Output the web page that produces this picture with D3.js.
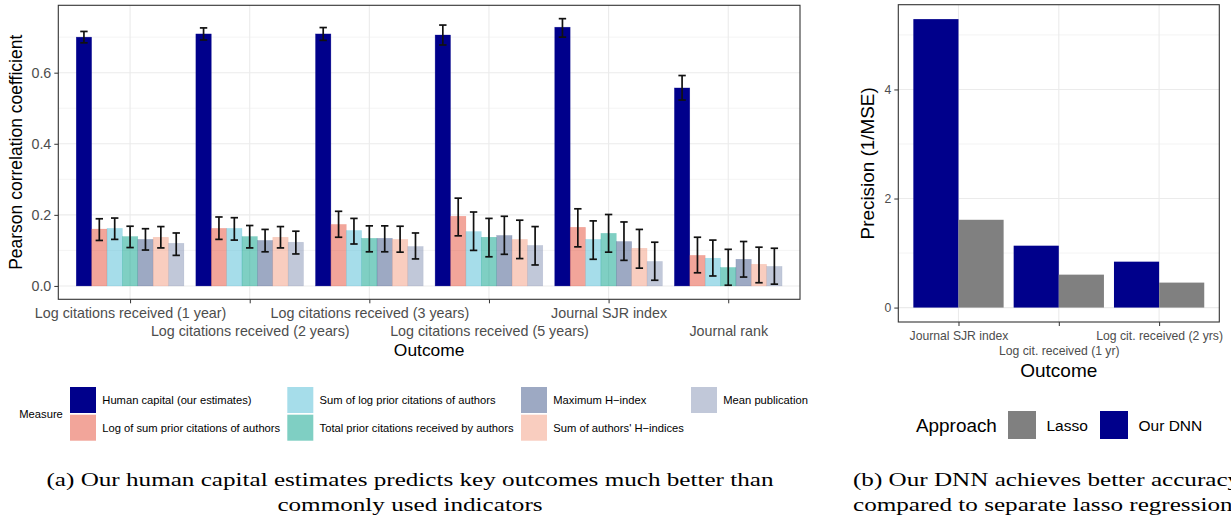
<!DOCTYPE html>
<html>
<head>
<meta charset="utf-8">
<script src="https://d3js.org/d3.v7.min.js"></script>
<style>
  html, body { margin: 0; padding: 0; background: #fff; }
  svg { display: block; font-family: "Liberation Sans", Arial, sans-serif; }
  .tick text { fill: #4D4D4D; }
  .tick line { stroke: #333; }
  .caption { font-family: "Liberation Serif", "DejaVu Serif", serif; fill: #000; }
</style>
</head>
<body>
<svg width="1231" height="517"></svg>
<script>
// ---- data: panel (a) ----
var outcomes = ["Log citations received (1 year)", "Log citations received (2 years)",
    "Log citations received (3 years)", "Log citations received (5 years)",
    "Journal SJR index", "Journal rank"];
var measures = ["Human capital (our estimates)", "Log of sum prior citations of authors",
    "Sum of log prior citations of authors", "Total prior citations received by authors",
    "Maximum H\u2212index", "Sum of authors' H\u2212indices", "Mean publication"];
var measureColors = ["#00008B", "#E64B35", "#4DBBD5", "#00A087", "#3C5488", "#F39B7F", "#8491B4"];
var measureAlpha = [1, 0.5, 0.5, 0.5, 0.5, 0.5, 0.5];
// one row per outcome, one column per measure
var corr = [
    [0.700, 0.160, 0.162, 0.139, 0.131, 0.137, 0.120],
    [0.709, 0.162, 0.162, 0.139, 0.128, 0.137, 0.123],
    [0.709, 0.173, 0.156, 0.134, 0.134, 0.131, 0.111],
    [0.706, 0.196, 0.153, 0.137, 0.142, 0.131, 0.114],
    [0.728, 0.165, 0.131, 0.148, 0.125, 0.106, 0.069],
    [0.557, 0.086, 0.078, 0.052, 0.075, 0.061, 0.055]];
var corrLow = [
    [0.684, 0.128, 0.131, 0.108, 0.101, 0.107, 0.086],
    [0.692, 0.131, 0.129, 0.107, 0.096, 0.107, 0.090],
    [0.691, 0.137, 0.118, 0.096, 0.096, 0.095, 0.076],
    [0.678, 0.141, 0.100, 0.082, 0.089, 0.077, 0.059],
    [0.700, 0.110, 0.075, 0.095, 0.072, 0.050, 0.016],
    [0.523, 0.037, 0.028, 0.002, 0.025, 0.009, 0.005]];
var corrHigh = [
    [0.716, 0.189, 0.191, 0.168, 0.161, 0.167, 0.149],
    [0.726, 0.194, 0.192, 0.170, 0.159, 0.167, 0.154],
    [0.727, 0.210, 0.190, 0.169, 0.169, 0.168, 0.149],
    [0.734, 0.247, 0.208, 0.190, 0.196, 0.185, 0.167],
    [0.752, 0.217, 0.183, 0.201, 0.180, 0.159, 0.123],
    [0.592, 0.137, 0.129, 0.103, 0.125, 0.109, 0.106]];
var corrTicks = [0, 0.2, 0.4, 0.6];
var corrMinor = [0.1, 0.3, 0.5, 0.7];

// ---- data: panel (b) ----
var outcomesB = ["Journal SJR index", "Log cit. received (1 yr)", "Log cit. received (2 yrs)"];
var approaches = ["Our DNN", "Lasso"];          // dodge order, left to right
var approachColors = {"Our DNN": "#00008B", "Lasso": "#808080"};
var dnnPrecision = [5.29, 1.135, 0.842];
var lassoPrecision = [1.61, 0.604, 0.458];
var precTicks = [0, 2, 4];
var precMinor = [1, 3, 5];

var svg = d3.select("svg");
svg.append("rect").attr("width", 1231).attr("height", 517).attr("fill", "#fff");

function expand(lo, hi) { var d = (hi - lo) * 0.05; return [lo - d, hi + d]; }

// ================= panel (a) =================
var A = {left: 58.3, right: 800, top: 5.3, bottom: 299.3};
var xA = d3.scalePoint().domain(outcomes).range([A.left, A.right]).padding(0.6);
var innerA = d3.scaleBand().domain(d3.range(measures.length))
    .range([-xA.step() * 0.45, xA.step() * 0.45]);
var yA = d3.scaleLinear().domain(expand(0, d3.max(corrHigh, function(r) { return d3.max(r); })))
    .range([A.bottom, A.top]);

var gA = svg.append("g");
// grid
gA.selectAll(".minor").data(corrMinor).enter().append("line")
    .attr("x1", A.left).attr("x2", A.right)
    .attr("y1", function(d) { return yA(d); }).attr("y2", function(d) { return yA(d); })
    .attr("stroke", "#EBEBEB").attr("stroke-width", 0.6);
gA.selectAll(".major").data(corrTicks).enter().append("line")
    .attr("x1", A.left).attr("x2", A.right)
    .attr("y1", function(d) { return yA(d); }).attr("y2", function(d) { return yA(d); })
    .attr("stroke", "#EBEBEB").attr("stroke-width", 1.1);
gA.selectAll(".vgrid").data(outcomes).enter().append("line")
    .attr("x1", function(d) { return xA(d); }).attr("x2", function(d) { return xA(d); })
    .attr("y1", A.top).attr("y2", A.bottom)
    .attr("stroke", "#EBEBEB").attr("stroke-width", 1.1);

// bars
var barData = [];
outcomes.forEach(function(o, i) {
    measures.forEach(function(m, j) {
        barData.push({o: o, j: j, v: corr[i][j], lo: corrLow[i][j], hi: corrHigh[i][j]});
    });
});
gA.selectAll(".bar").data(barData).enter().append("rect")
    .attr("x", function(d) { return xA(d.o) + innerA(d.j); })
    .attr("width", innerA.bandwidth())
    .attr("y", function(d) { return yA(d.v); })
    .attr("height", function(d) { return yA(0) - yA(d.v); })
    .attr("fill", function(d) { return measureColors[d.j]; })
    .attr("fill-opacity", function(d) { return measureAlpha[d.j]; })
    .attr("stroke", function(d) { return measureColors[d.j]; })
    .attr("stroke-opacity", function(d) { return measureAlpha[d.j] * 0.6; })
    .attr("stroke-width", 0.5);

// error bars
var eb = gA.selectAll(".err").data(barData).enter().append("g")
    .attr("transform", function(d) { return "translate(" + (xA(d.o) + innerA(d.j) + innerA.bandwidth() / 2) + ",0)"; })
    .attr("stroke", "#111").attr("stroke-width", 1.7);
eb.append("line").attr("y1", function(d) { return yA(d.lo); }).attr("y2", function(d) { return yA(d.hi); });
eb.append("line").attr("x1", -3.7).attr("x2", 3.7)
    .attr("y1", function(d) { return yA(d.lo); }).attr("y2", function(d) { return yA(d.lo); });
eb.append("line").attr("x1", -3.7).attr("x2", 3.7)
    .attr("y1", function(d) { return yA(d.hi); }).attr("y2", function(d) { return yA(d.hi); });

// border
gA.append("rect").attr("x", A.left).attr("y", A.top)
    .attr("width", A.right - A.left).attr("height", A.bottom - A.top)
    .attr("fill", "none").attr("stroke", "#333").attr("stroke-width", 1.1);

// axes
var axLA = gA.append("g").attr("transform", "translate(" + A.left + ",0)")
    .call(d3.axisLeft(yA).tickValues(corrTicks).tickFormat(d3.format(".1f")).tickSize(4).tickPadding(3));
axLA.select(".domain").remove();
axLA.selectAll("text").style("font-size", "14.3px");

var axBA = gA.append("g").attr("transform", "translate(0," + A.bottom + ")")
    .call(d3.axisBottom(xA).tickSize(4).tickPadding(3));
axBA.select(".domain").remove();
axBA.selectAll("text").style("font-size", "14.3px")
    .attr("y", function(d, i) { return i % 2 === 0 ? 14 : 31.7; })
    .attr("dy", "0.35em");

gA.append("text").attr("x", (A.left + A.right) / 2).attr("y", 350).attr("dy", "0.35em")
    .attr("text-anchor", "middle").style("font-size", "17.4px").text("Outcome");
gA.append("text").attr("transform", "translate(15.5," + (A.top + A.bottom) / 2 + ") rotate(-90)")
    .attr("dy", "0.35em").attr("text-anchor", "middle").style("font-size", "17.5px")
    .text("Pearson correlation coefficient");

// legend (a)
var legA = svg.append("g");
legA.append("text").attr("x", 19.3).attr("y", 414).attr("dy", "0.35em")
    .style("font-size", "11.2px").text("Measure");
var legColX = [70, 287.3, 521, 691];
var legRowY = [387, 414.7];
var legItems = legA.selectAll(".li").data(measures).enter().append("g")
    .attr("transform", function(d, i) {
        return "translate(" + legColX[Math.floor(i / 2)] + "," + legRowY[i % 2] + ")";
    });
legItems.append("rect").attr("width", 26).attr("height", 26)
    .attr("fill", function(d, i) { return measureColors[i]; })
    .attr("fill-opacity", function(d, i) { return measureAlpha[i]; });
legItems.append("text").attr("x", 32.3).attr("y", 13).attr("dy", "0.35em")
    .style("font-size", "11.2px").attr("fill", "#000").text(function(d) { return d; });

// ================= panel (b) =================
var B = {left: 898.3, right: 1219.3, top: 4.7, bottom: 322};
var xB = d3.scalePoint().domain(outcomesB).range([B.left, B.right]).padding(0.6);
var innerB = d3.scaleBand().domain(approaches).range([-xB.step() * 0.45, xB.step() * 0.45]);
var yB = d3.scaleLinear().domain(expand(0, d3.max(dnnPrecision.concat(lassoPrecision))))
    .range([B.bottom, B.top]);

var gB = svg.append("g");
gB.selectAll(".minor").data(precMinor).enter().append("line")
    .attr("x1", B.left).attr("x2", B.right)
    .attr("y1", function(d) { return yB(d); }).attr("y2", function(d) { return yB(d); })
    .attr("stroke", "#EBEBEB").attr("stroke-width", 0.6);
gB.selectAll(".major").data(precTicks).enter().append("line")
    .attr("x1", B.left).attr("x2", B.right)
    .attr("y1", function(d) { return yB(d); }).attr("y2", function(d) { return yB(d); })
    .attr("stroke", "#EBEBEB").attr("stroke-width", 1.1);
gB.selectAll(".vgrid").data(outcomesB).enter().append("line")
    .attr("x1", function(d) { return xB(d); }).attr("x2", function(d) { return xB(d); })
    .attr("y1", B.top).attr("y2", B.bottom)
    .attr("stroke", "#EBEBEB").attr("stroke-width", 1.1);

var barB = [];
outcomesB.forEach(function(o, i) {
    barB.push({o: o, a: "Our DNN", v: dnnPrecision[i]});
    barB.push({o: o, a: "Lasso", v: lassoPrecision[i]});
});
gB.selectAll(".bar").data(barB).enter().append("rect")
    .attr("x", function(d) { return xB(d.o) + innerB(d.a); })
    .attr("width", innerB.bandwidth())
    .attr("y", function(d) { return yB(d.v); })
    .attr("height", function(d) { return yB(0) - yB(d.v); })
    .attr("fill", function(d) { return approachColors[d.a]; });

gB.append("rect").attr("x", B.left).attr("y", B.top)
    .attr("width", B.right - B.left).attr("height", B.bottom - B.top)
    .attr("fill", "none").attr("stroke", "#333").attr("stroke-width", 1.1);

var axLB = gB.append("g").attr("transform", "translate(" + B.left + ",0)")
    .call(d3.axisLeft(yB).tickValues(precTicks).tickFormat(d3.format("d")).tickSize(4).tickPadding(3));
axLB.select(".domain").remove();
axLB.selectAll("text").style("font-size", "12.2px");

var axBB = gB.append("g").attr("transform", "translate(0," + B.bottom + ")")
    .call(d3.axisBottom(xB).tickSize(4).tickPadding(3));
axBB.select(".domain").remove();
axBB.selectAll("text").style("font-size", "12.2px")
    .attr("y", function(d, i) { return i % 2 === 0 ? 13.3 : 29; })
    .attr("dy", "0.35em");

gB.append("text").attr("x", (B.left + B.right) / 2).attr("y", 370).attr("dy", "0.35em")
    .attr("text-anchor", "middle").style("font-size", "19px").text("Outcome");
gB.append("text").attr("transform", "translate(867," + (B.top + B.bottom) / 2 + ") rotate(-90)")
    .attr("dy", "0.35em").attr("text-anchor", "middle").style("font-size", "18.9px")
    .text("Precision (1/MSE)");

// legend (b)
var legB = svg.append("g");
legB.append("text").attr("x", 916).attr("y", 425.7).attr("dy", "0.35em")
    .style("font-size", "18.9px").text("Approach");
var legBItems = [{a: "Lasso", x: 1008}, {a: "Our DNN", x: 1100}];
var lb = legB.selectAll(".lb").data(legBItems).enter().append("g")
    .attr("transform", function(d) { return "translate(" + d.x + ",411)"; });
lb.append("rect").attr("width", 28).attr("height", 28)
    .attr("fill", function(d) { return approachColors[d.a]; });
lb.append("text").attr("x", 38.5).attr("y", 14.5).attr("dy", "0.35em")
    .style("font-size", "15.5px").text(function(d) { return d.a; });

// ================= captions =================
var capLines = [
    {t: "(a) Our human capital estimates predicts key outcomes much better than", x: 410, y: 480, anchor: "middle"},
    {t: "commonly used indicators", x: 410, y: 505, anchor: "middle"},
    {t: "(b) Our DNN achieves better accuracy", x: 853, y: 480, anchor: "start"},
    {t: "compared to separate lasso regressions", x: 853, y: 505, anchor: "start"}];
var cap = svg.selectAll(".caption").data(capLines).enter().append("text")
    .attr("class", "caption")
    .attr("x", function(d) { return d.x; }).attr("y", function(d) { return d.y; })
    .attr("dy", "0.35em").attr("text-anchor", function(d) { return d.anchor; })
    .style("font-size", "18.5px").text(function(d) { return d.t; });
// stretch serif captions to the wider TeX font width of line (a)
var k = 727 / cap.nodes()[0].getComputedTextLength();
cap.each(function() {
    var w = this.getComputedTextLength();
    d3.select(this).attr("textLength", w * k).attr("lengthAdjust", "spacingAndGlyphs");
});
</script>
</body>
</html>
